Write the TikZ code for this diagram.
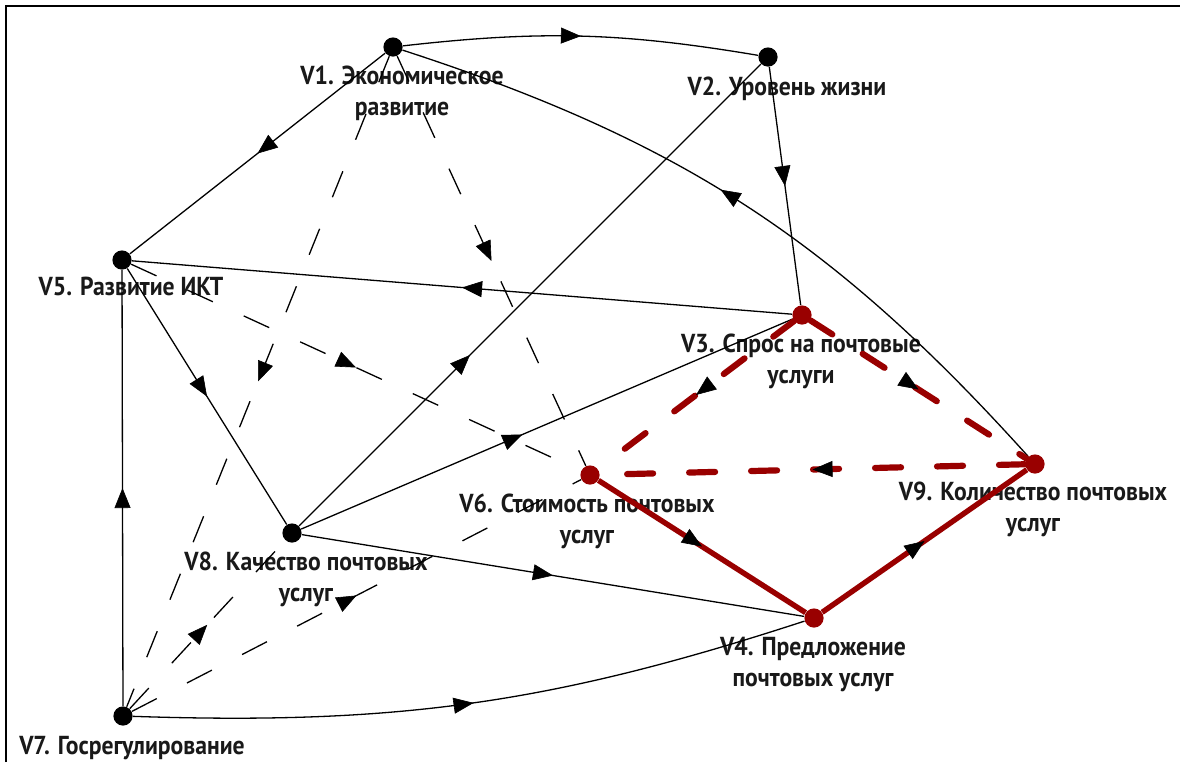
\documentclass[tikz,border=0pt]{standalone}
\usepackage{fontspec}
\setmainfont{PT Sans}[FakeStretch=0.91]
\usetikzlibrary{arrows.meta, decorations.markings}
\definecolor{loopred}{RGB}{153,0,0}

\begin{document}
\begin{tikzpicture}[
  x=0.5pt, y=-0.5pt,
  font=\bfseries\fontsize{13}{15.5}\selectfont,
  vert/.style={circle, fill=black, inner sep=0pt, minimum size=9.6pt},
  redvert/.style={vert, fill=loopred},
  lab/.style={anchor=north, align=center, inner sep=0pt, text=black!90},
  midarr/.style={postaction={decorate, decoration={markings,
      mark=at position #1 with {\arrow[black]{Triangle[length=10pt, width=8pt, line width=0.3pt]}}}}},
  midarr/.default=0.5,
  link/.style={draw=black, line width=0.65pt},
  dlink/.style={link, dash pattern=on 14pt off 17pt},
  redlink/.style={draw=loopred, line width=2.7pt},
  reddash/.style={draw=loopred, line width=3.1pt, dash pattern=on 13pt off 18pt, line cap=round},
]
\useasboundingbox (0,0) rectangle (1180,762);
\draw[line width=1.3pt] (6,762) -- (6,6) -- (1180,6);

% factors
\node[vert] (v1) at (393,47) {};
\node[vert] (v2) at (768,57) {};
\node[redvert] (v3) at (802,315) {};
\node[redvert] (v4) at (814,618) {};
\node[vert] (v5) at (122,260) {};
\node[redvert] (v6) at (590,475) {};
\node[vert] (v7) at (123,716) {};
\node[vert] (v8) at (292,533) {};
\node[redvert] (v9) at (1035,464) {};

\node[lab] (l1) at (402,66) {V1. Экономическое\\развитие};
\node[lab] (l2) at (787,77) {V2. Уровень жизни};
\node[lab] (l3) at (801,334) {V3. Спрос на почтовые\\услуги};
\node[lab] (l4) at (813,637) {V4. Предложение\\почтовых услуг};
\node[lab] (l5) at (131,277) {V5. Развитие ИКТ};
\node[lab] (l6) at (587,494) {V6. Стоимость почтовых\\услуг};
\node[lab] (l7) at (132,736) {V7. Госрегулирование};
\node[lab] (l8) at (306,552) {V8. Качество почтовых\\услуг};
\node[lab] (l9) at (1033,482) {V9. Количество почтовых\\услуг};

% direct links
\draw[link, midarr] (v1) to[bend left=8] (v2);
\draw[link, midarr] (v1) -- (v5);
\draw[link, midarr=0.54] (v9) to[bend right=15] (v1);
\draw[link, midarr] (v2) -- (v3);
\draw[link, midarr=0.37] (v8) -- (v2);
\draw[link, midarr] (v3) -- (v5);
\draw[link, midarr] (v5) -- (v8);
\draw[link, midarr] (v7) -- (v5);
\draw[link, midarr=0.45] (v8) -- (v3);
\draw[link, midarr] (v8) -- (v4);
\draw[link, midarr] (v7) to[bend right=10] (v4);

% dashed links
\draw[dlink, midarr] (v1) -- (v7);
\draw[dlink, midarr] (v1) -- (v6);
\draw[dlink, midarr] (v5) -- (v6);
\draw[dlink, midarr] (v7) -- (v8);
\draw[dlink, midarr] (v7) -- (v6);

% loop
\draw[reddash, midarr] (v3) -- (v6);
\draw[reddash, midarr] (v3) -- (v9);
\draw[reddash, midarr] (v9) -- (v6);
\draw[redlink, midarr] (v6) -- (v4);
\draw[redlink, midarr] (v4) -- (v9);
\end{tikzpicture}
\end{document}
